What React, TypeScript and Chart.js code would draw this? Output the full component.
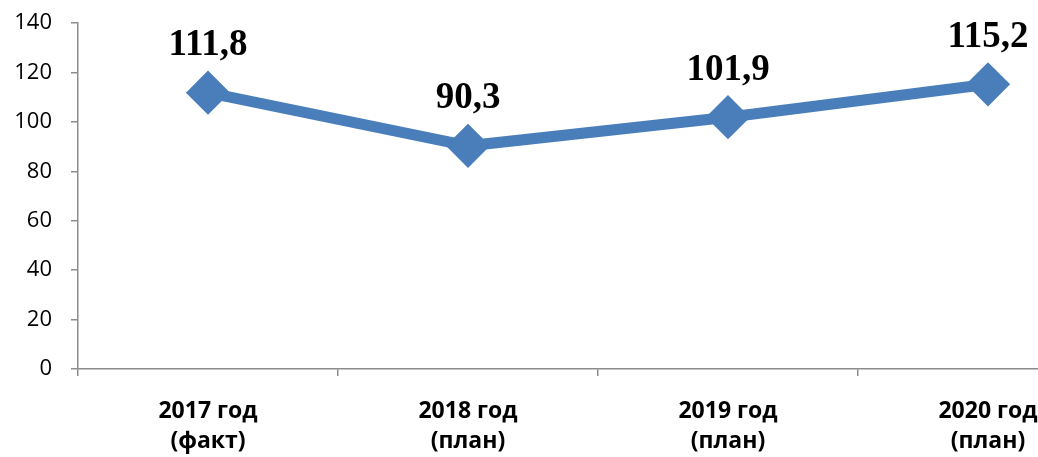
import React, { useEffect, useRef } from "react";
import { Chart, registerables } from "chart.js";

Chart.register(...registerables);

const categories: string[][] = [
  ["2017 год", "(факт)"],
  ["2018 год", "(план)"],
  ["2019 год", "(план)"],
  ["2020 год", "(план)"],
];
const values: number[] = [111.8, 90.3, 101.9, 115.2];
const yMin = 0;
const yMax = 140;
const yStep = 20;

const LINE_COLOR = "#4A7EBB";
const AXIS_COLOR = "#8C8C8C";

const valueLabels = {
  id: "valueLabels",
  afterDatasetsDraw(chart: any) {
    const ctx = chart.ctx;
    const meta = chart.getDatasetMeta(0);
    ctx.save();
    ctx.font = "bold 37px 'Liberation Serif', 'Times New Roman', serif";
    ctx.fillStyle = "#000";
    ctx.textAlign = "center";
    ctx.textBaseline = "middle";
    meta.data.forEach((pt: any, i: number) => {
      const v = chart.data.datasets[0].data[i] as number;
      const txt = v.toFixed(1).replace(".", ",");
      ctx.fillText(txt, pt.x, pt.y - 47);
    });
    ctx.restore();
  },
};

export default function App() {
  const ref = useRef<HTMLCanvasElement | null>(null);
  useEffect(() => {
    if (!ref.current) return;
    const chart = new Chart(ref.current, {
      type: "line",
      data: {
        labels: categories,
        datasets: [
          {
            data: values,
            borderColor: LINE_COLOR,
            backgroundColor: LINE_COLOR,
            borderWidth: 11,
            tension: 0,
            clip: false,
            pointStyle: "rectRot",
            pointRadius: 20,
            pointBorderWidth: 3,
            pointBackgroundColor: LINE_COLOR,
            pointBorderColor: LINE_COLOR,
          },
        ],
      },
      options: {
        animation: false,
        responsive: false,
        maintainAspectRatio: false,
        layout: { autoPadding: false, padding: { top: 23, right: 2, left: 0, bottom: 0 } },
        plugins: {
          legend: { display: false },
          tooltip: { enabled: false },
        },
        scales: {
          x: {
            type: "category",
            offset: true,
            grid: {
              offset: true,
              drawOnChartArea: false,
              drawTicks: true,
              tickLength: 7,
              color: AXIS_COLOR,
              lineWidth: 1.5,
            },
            border: { display: true, color: AXIS_COLOR, width: 1.5 },
            ticks: {
              padding: 21,
              color: "#000",
              maxRotation: 0,
              autoSkip: false,
              font: { family: "'Open Sans', sans-serif", size: 23, weight: "bold", lineHeight: 1.3 },
            },
            afterFit: (scale: any) => {
              scale.height = 88;
              scale.paddingLeft = 0;
              scale.paddingRight = 0;
            },
          },
          y: {
            min: yMin,
            max: yMax,
            grid: {
              drawOnChartArea: false,
              drawTicks: true,
              tickLength: 7,
              color: AXIS_COLOR,
              lineWidth: 1.5,
            },
            border: { display: true, color: AXIS_COLOR, width: 1.5 },
            ticks: {
              stepSize: yStep,
              padding: 19,
              color: "#000",
              font: { family: "'Open Sans', sans-serif", size: 22 },
            },
            afterFit: (scale: any) => {
              scale.width = 78;
              scale.paddingTop = 0;
              scale.paddingBottom = 0;
            },
          },
        },
      },
      plugins: [valueLabels],
    } as any);
    return () => chart.destroy();
  }, []);

  return (
    <div
      style={{
        position: "fixed",
        left: 0,
        top: 0,
        width: 1038,
        height: 457,
        overflow: "hidden",
        background: "#fff",
      }}
    >
      <canvas ref={ref} width={1120} height={457} style={{ width: 1120, height: 457, display: "block" }} />
    </div>
  );
}
